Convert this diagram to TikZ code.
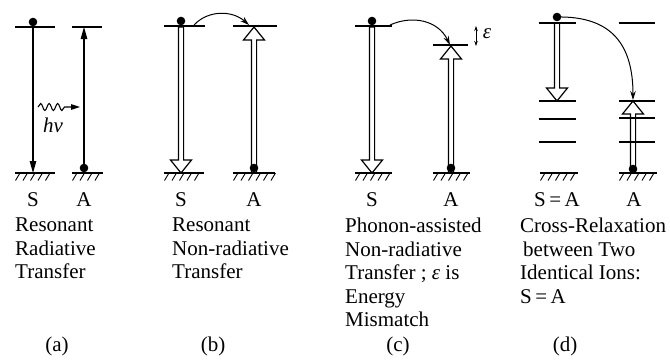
\documentclass[tikz,border=0pt]{standalone}
\usepackage{fontspec}
\setmainfont{Liberation Serif}
\usetikzlibrary{arrows.meta,decorations.pathmorphing}

\tikzset{
  lvl/.style={line width=1.9pt},
  gnd/.style={line width=1.7pt},
  hatchline/.style={line width=0.9pt},
  thinarrow/.style={line width=1.2pt,-{Triangle[length=12pt,width=6.5pt]}},
  hollowarrow/.style={draw,fill=white,line width=1.2pt,line join=miter},
  transfer/.style={line width=1pt,-{Stealth[length=9pt,width=5.5pt]}},
  electron/.style={fill=black},
  txt/.style={font=\fontsize{21}{23.5}\selectfont, inner sep=0pt},
  caption/.style={txt, anchor=north west, align=left},
}

% hollow (block) arrow: x, tail y, head y
\newcommand\hollowarr[3]{%
  \pgfmathsetmacro\hd{sign(#3-#2)*13}%
  \draw[hollowarrow] (#1-2.6,#2) -- (#1-2.6,#3-\hd) -- (#1-10.5,#3-\hd) -- (#1,#3)
    -- (#1+10.5,#3-\hd) -- (#1+2.6,#3-\hd) -- (#1+2.6,#2) -- cycle;
}
% hatched ground state: x from, x to, y
\newcommand\groundat[3]{%
  \draw[gnd] (#1,#3) -- (#2,#3);
  \pgfmathtruncatemacro\nh{(#2-#1-4)/7.5}%
  \foreach \k in {0,...,\nh} \draw[hatchline] ({#1+5+\k*7.5},#3) -- ++(-4.5,7.5);
}

\begin{document}
\begin{tikzpicture}[x=1pt,y=-1pt]
\useasboundingbox (0,0) rectangle (670,362);

% ---------------- (a) resonant radiative transfer
\draw[lvl] (15,27) -- (55,27);
\draw[lvl] (72,27) -- (102,27);
\groundat{15}{55}{173}
\groundat{72}{103}{173}
\coordinate (aStop) at (33,27);
\coordinate (aSbot) at (33,173);
\coordinate (aAbot) at (84,168);
\coordinate (aAtop) at (84,27);
\draw[thinarrow] (aStop) -- (aSbot);
\draw[thinarrow] (aAbot) -- (aAtop);
\fill[electron] (33,22) circle (4.3pt);
\fill[electron] (aAbot) circle (4.3pt);
\coordinate (photonA) at (38,107);
\coordinate (photonB) at (80,107);
\draw[line width=1.1pt, decorate, decoration={snake, amplitude=3.5pt, segment length=8.5pt, post length=12pt},
      -{Triangle[length=9pt,width=5.5pt]}] (photonA) -- (photonB);
\node[txt] (hnu) at (53,125) {\textit{hν}};
\node[txt] (aS) at (33,200) {S};
\node[txt] (aA) at (84,200) {A};
\node[caption] (acap) at (15,218) {Resonant\\Radiative\\Transfer};
\node[txt] (alab) at (57,346) {(a)};

% ---------------- (b) resonant non-radiative transfer
\hollowarr{181}{27}{173}
\hollowarr{254}{173}{27}
\draw[lvl] (164,26) -- (205,26);
\draw[lvl] (233,26) -- (277,26);
\groundat{164}{204}{173}
\groundat{233}{275}{173}
\fill[electron] (181,21) circle (4.3pt);
\fill[electron] (254,168) circle (4.3pt);
\coordinate (bFrom) at (194,25);
\coordinate (bTo) at (249,25);
\draw[transfer] (bFrom) .. controls (208,10) and (232,10) .. (bTo);
\node[txt] (bS) at (181,200) {S};
\node[txt] (bA) at (254,200) {A};
\node[caption] (bcap) at (172,218) {Resonant\\Non-radiative\\Transfer};
\node[txt] (blab) at (213,346) {(b)};

% ---------------- (c) phonon-assisted transfer
\hollowarr{372}{27}{173}
\hollowarr{451}{173}{46}
\draw[lvl] (355,26) -- (392,26);
\draw[lvl] (433,45) -- (468,45);
\groundat{355}{392}{173}
\groundat{433}{470}{173}
\fill[electron] (372,21) circle (4.3pt);
\fill[electron] (451,168) circle (4.3pt);
\coordinate (cFrom) at (390,25);
\coordinate (cTo) at (450,45);
\draw[transfer] (cFrom) .. controls (412,15) and (438,20) .. (cTo);
\coordinate (epsTop) at (476,26);
\coordinate (epsBot) at (476,46);
\draw[line width=0.8pt, {Stealth[length=5pt,width=3.5pt]}-{Stealth[length=5pt,width=3.5pt]}] (epsTop) -- (epsBot);
\node[txt] (eps) at (487,34) {\textit{ε}};
\node[txt] (cS) at (372,200) {S};
\node[txt] (cA) at (451,200) {A};
\node[caption] (ccap) at (345,218) {Phonon-assisted\\Non-radiative\\Transfer ; \textit{ε} is\\Energy\\Mismatch};
\node[txt] (clab) at (398,346) {(c)};

% ---------------- (d) cross-relaxation
\hollowarr{557}{23}{101}
\hollowarr{633}{173}{101}
\foreach \yy in {23,101,119,142} \draw[lvl] (539,\yy) -- (576,\yy);
\foreach \yy in {23,101,118,142} \draw[lvl] (619,\yy) -- (655,\yy);
\groundat{540}{578}{173}
\groundat{619}{657}{173}
\fill[electron] (557,17) circle (4.3pt);
\fill[electron] (633,169) circle (4.3pt);
\coordinate (dFrom) at (557,17);
\coordinate (dTo) at (633,100);
\draw[transfer] (dFrom) .. controls (612,16) and (633,45) .. (dTo);
\node[txt] (dS) at (557,200) {S\,=\,A};
\node[txt] (dA) at (634,200) {A};
\node[caption] (dcap) at (520,218) {Cross-Relaxation\\\hspace{3pt}between Two\\Identical Ions:\\S\,=\,A};
\node[txt] (dlab) at (565,346) {(d)};
\end{tikzpicture}
\end{document}
